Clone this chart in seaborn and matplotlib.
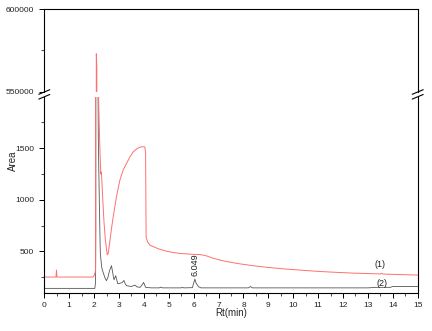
import matplotlib
matplotlib.use("Agg")
import matplotlib.pyplot as plt
from matplotlib.lines import Line2D
import seaborn as sns
import pandas as pd

# ---- data ----
rt1 = [0, 0.47, 0.49, 0.51, 1.95, 2.0, 2.04, 2.06, 2.09, 2.11, 2.13, 2.15, 2.18, 2.21, 2.24,
       2.27, 2.29, 2.31, 2.35, 2.40, 2.45, 2.50, 2.53, 2.57, 2.63, 2.70, 2.77, 2.90, 3.04, 3.17,
       3.31, 3.45, 3.58, 3.72, 3.84, 3.95, 4.04, 4.07, 4.09, 4.15, 4.24, 4.38, 4.60, 4.92, 5.18,
       5.50, 5.98, 6.25, 6.40, 6.52, 6.75, 7.05, 7.33, 7.80, 8.39, 9.00, 9.73, 10.40, 11.07,
       11.70, 12.41, 13.00, 13.50, 13.55, 13.60, 14.30, 15.00]
area1 = [250, 250, 318, 250, 250, 265, 290, 320, 573000, 565000, 6000, 2600, 2000, 1700, 1450,
         1250, 1270, 1200, 1000, 780, 620, 520, 466, 480, 590, 720, 837, 1030, 1193, 1290,
         1355, 1420, 1467, 1495, 1510, 1515, 1512, 1450, 640, 590, 560, 545, 522, 500, 488,
         478, 470, 468, 462, 455, 435, 415, 400, 380, 360, 343, 327, 315, 304,
         296, 288, 284, 280, 286, 279, 274, 269]

rt2 = [0, 2.03, 2.06, 2.07, 2.09, 2.11, 2.14, 2.17, 2.21, 2.25, 2.31, 2.37, 2.44, 2.50, 2.56,
       2.62, 2.70, 2.75, 2.80, 2.87, 2.95, 3.04, 3.12, 3.20, 3.26, 3.31, 3.50, 3.64, 3.72,
       3.85, 3.93, 3.99, 4.07, 4.30, 4.62, 4.68, 4.75, 5.50, 5.55, 5.60, 5.95, 6.00, 6.05,
       6.10, 6.20, 6.30, 8.20, 8.28, 8.36, 13.00, 13.20, 13.30, 13.90, 14.00, 15.00]
area2 = [140, 140, 200, 700, 20000, 20000, 3000, 1600, 1000, 480, 340, 290, 240, 215, 250,
         310, 360, 290, 224, 263, 185, 190, 195, 217, 180, 166, 158, 172, 155,
         150, 175, 198, 150, 145, 145, 152, 145, 145, 150, 145, 147, 190, 230,
         190, 155, 145, 145, 158, 145, 145, 148, 150, 150, 158, 158]

x_ticks = list(range(0, 16))
low_ticks = [500, 1000, 1500]
low_minor = [250, 750, 1250, 1750]
high_ticks = [550000, 600000]
high_minor = [575000]

df1 = pd.DataFrame({"Rt": rt1, "Area": area1})
df2 = pd.DataFrame({"Rt": rt2, "Area": area2})

sns.set_style("ticks")
plt.rcParams['font.family'] = ['Liberation Sans', 'DejaVu Sans']

fig = plt.figure(figsize=(4.32, 3.31), dpi=100)
L, W = 0.1025, 0.8644
ax_lo = fig.add_axes([L, 0.1163, W, 0.5916])
ax_hi = fig.add_axes([L, 0.7230, W, 0.2489])

red = "#ff6f6f"
gray = "#555555"
for ax in (ax_lo, ax_hi):
    sns.lineplot(data=df2, x="Rt", y="Area", ax=ax, color=gray, lw=0.6,
                 estimator=None, sort=False)
    sns.lineplot(data=df1, x="Rt", y="Area", ax=ax, color=red, lw=0.7,
                 estimator=None, sort=False)
    ax.set_xlim(0, 15)
    ax.set_xlabel("")
    ax.set_ylabel("")
    for s in ax.spines.values():
        s.set_linewidth(0.8)
        s.set_color("black")
    ax.tick_params(which="major", direction="out", length=3.5, width=0.7,
                   labelsize=6, colors="black", labelcolor="#222222")
    ax.tick_params(which="minor", direction="out", length=2.5, width=0.6)

ax_lo.set_ylim(100, 2000)
ax_lo.set_yticks(low_ticks)
ax_lo.set_yticklabels([str(v) for v in low_ticks])
ax_lo.set_yticks(low_minor, minor=True)
ax_lo.set_xticks(x_ticks)
ax_lo.set_xticklabels([str(v) for v in x_ticks])
ax_lo.set_xticks([v + 0.5 for v in x_ticks[:-1]], minor=True)
ax_lo.spines["top"].set_visible(False)
ax_lo.tick_params(axis="x", pad=3.5)
ax_lo.tick_params(axis="y", pad=4)

ax_hi.set_ylim(550000, 600000)
ax_hi.set_yticks(high_ticks)
ax_hi.set_yticklabels([str(v) for v in high_ticks])
ax_hi.set_yticks(high_minor, minor=True)
ax_hi.set_xticks([])
ax_hi.spines["bottom"].set_visible(False)
ax_hi.tick_params(axis="y", pad=4)

ax_lo.text(6.05, 262, "6.049", rotation=90, ha="center", va="bottom", fontsize=6.5,
           color="#222222")
ax_lo.text(13.48, 376, "(1)", ha="center", va="center", fontsize=6.5, color="#222222")
ax_lo.text(13.55, 192, "(2)", ha="center", va="center", fontsize=6.5, color="#222222")

fig.text(231 / 432, 1 - 313 / 331, "Rt(min)", ha="center", va="center", fontsize=7)
fig.text(13 / 432, 1 - 161 / 331, "Area", ha="center", va="center", fontsize=7,
         rotation=90)

# break marks
def px(x, y):
    return x / 432, 1 - y / 331

for xc in (44.3, 417.7):
    for yc in (92.0, 96.8):
        (x0, y0), (x1, y1) = px(xc - 5.5, yc + 2.3), px(xc + 5.5, yc - 2.3)
        fig.add_artist(Line2D([x0, x1], [y0, y1], transform=fig.transFigure,
                              color="black", lw=0.8))

fig.savefig("out.png", dpi=100)
